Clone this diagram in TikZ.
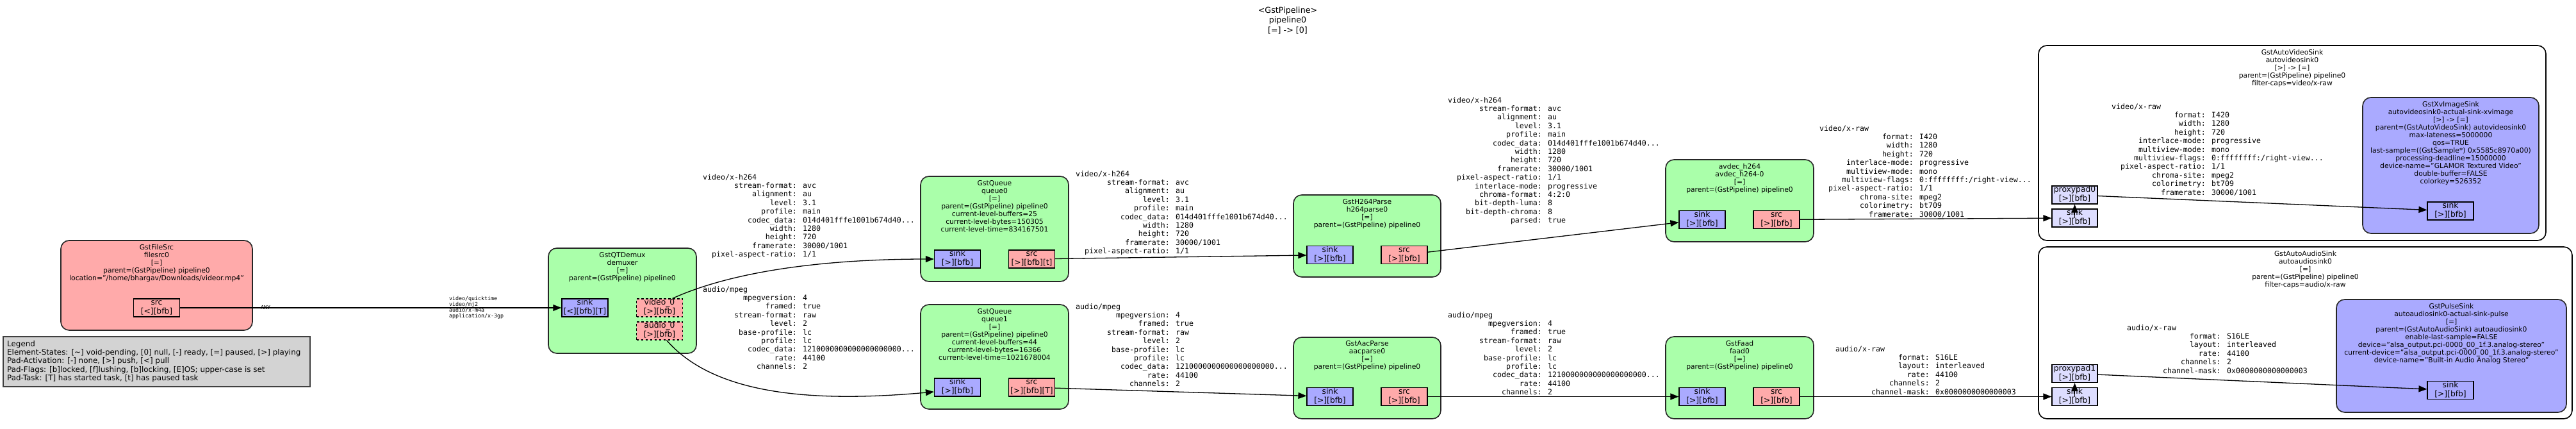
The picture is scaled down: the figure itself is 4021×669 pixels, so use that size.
\documentclass[tikz,border=0pt]{standalone}
\usepackage{fontspec}
\setmainfont{DejaVu Sans}
\newfontfamily\monof{DejaVu Sans Mono}
\usetikzlibrary{arrows.meta,calc}
\definecolor{srcc}{HTML}{FFAAAA}
\definecolor{sinkc}{HTML}{AAAAFF}
\definecolor{filtc}{HTML}{AAFFAA}
\definecolor{proxyc}{HTML}{DDDDFF}
\definecolor{legc}{HTML}{D3D3D3}
\newcommand\capfont{\monof\fontsize{11.6}{13.4}\selectfont}
\newcommand\smallcap{\monof\fontsize{8.3}{9.3}\selectfont}
\newcommand\efont{\fontsize{10.8}{12}\selectfont}
\newcommand\tfont{\fontsize{12.7}{15.3}\selectfont}
\newcommand\pfont{\fontsize{12.3}{14}\selectfont}
\newcommand\lfont{\fontsize{11.9}{13.4}\selectfont}
\newcommand\nl{\\\relax}
\newcommand\cl[2]{\makebox[20\fontcharwd\font`0][r]{#1}: #2}
\newcommand\ltab[1]{\begin{tabular}[t]{@{}l@{}}#1\end{tabular}}
\newcommand\ctab[1]{\begin{tabular}[t]{@{}c@{}}#1\end{tabular}}
\newcommand\ptab[2]{\begin{tabular}{@{}c@{}}#1\\\relax #2\end{tabular}}
\newcommand\hcaps{video/x-h264\nl
\cl{stream-format}{avc}\nl
\cl{alignment}{au}\nl
\cl{level}{3.1}\nl
\cl{profile}{main}\nl
\cl{codec\_data}{014d401fffe1001b674d40...}\nl
\cl{width}{1280}\nl
\cl{height}{720}\nl
\cl{framerate}{30000/1001}\nl
\cl{pixel-aspect-ratio}{1/1}}
\newcommand\acaps{audio/mpeg\nl
\cl{mpegversion}{4}\nl
\cl{framed}{true}\nl
\cl{stream-format}{raw}\nl
\cl{level}{2}\nl
\cl{base-profile}{lc}\nl
\cl{profile}{lc}\nl
\cl{codec\_data}{1210000000000000000000...}\nl
\cl{rate}{44100}\nl
\cl{channels}{2}}
\newcommand\rvcaps{video/x-raw\nl
\cl{format}{I420}\nl
\cl{width}{1280}\nl
\cl{height}{720}\nl
\cl{interlace-mode}{progressive}\nl
\cl{multiview-mode}{mono}\nl
\cl{multiview-flags}{0:ffffffff:/right-view...}\nl
\cl{pixel-aspect-ratio}{1/1}\nl
\cl{chroma-site}{mpeg2}\nl
\cl{colorimetry}{bt709}\nl
\cl{framerate}{30000/1001}}
\newcommand\racaps{audio/x-raw\nl
\cl{format}{S16LE}\nl
\cl{layout}{interleaved}\nl
\cl{rate}{44100}\nl
\cl{channels}{2}\nl
\cl{channel-mask}{0x0000000000000003}}
\tikzset{
  elem/.style={draw=black!85, line width=1.6pt, rounded corners=13pt, inner sep=0pt},
  etext/.style={font=\efont, inner sep=0pt, anchor=base},
  padbox/.style={draw=black, line width=1.2pt, minimum width=72pt, minimum height=26pt, inner sep=0pt, font=\pfont},
  srcpad/.style={padbox, fill=srcc},
  sinkpad/.style={padbox, fill=sinkc},
  proxpad/.style={padbox, fill=proxyc, minimum width=71pt},
  somepad/.style={srcpad, dash pattern=on 3.5pt off 3.5pt},
  capsbox/.style={font=\capfont, inner sep=0pt, anchor=base west},
  conn/.style={draw=black, line width=1.3pt, -{Triangle[length=13pt,width=10pt]}},
}
\begin{document}
\begin{tikzpicture}[x=1pt,y=-1pt]
\useasboundingbox (0,0) rectangle (4021,669);
% title
\node[font=\tfont, inner sep=0pt, anchor=base] (title) at (2010,20.5) {\ctab{<GstPipeline>\nl pipeline0\nl [=] -> [0]}};
% legend
\node[draw=black!75, line width=1.5pt, fill=legc, minimum width=479pt, minimum height=78pt, inner sep=0pt] (legend) at (244.5,564) {};
\node[font=\lfont, inner sep=0pt, anchor=base west] (legend-t) at (11,540) {\ltab{Legend\nl Element-States: [\textasciitilde] void-pending, [0] null, [-] ready, [=] paused, [>] playing\nl Pad-Activation: [-] none, [>] push, [<] pull\nl Pad-Flags: [b]locked, [f]lushing, [b]locking, [E]OS; upper-case is set\nl Pad-Task: [T] has started task, [t] has paused task}};
% filesrc
\node[elem, fill=srcc, minimum width=299pt, minimum height=140pt] (filesrc) at (244.5,445) {};
\node[etext] (filesrc-t) at (244.5,389) {\ctab{GstFileSrc\nl filesrc0\nl [=]\nl parent=(GstPipeline) pipeline0\nl location="/home/bhargav/Downloads/videor.mp4"}};
\node[srcpad] (fs-src) at (244.5,480) {\ptab{src}{[<][bfb]}};
% demuxer
\node[elem, fill=filtc, minimum width=231pt, minimum height=164pt] (demux) at (971.5,469) {};
\node[etext] (demux-t) at (971.5,401) {\ctab{GstQTDemux\nl demuxer\nl [=]\nl parent=(GstPipeline) pipeline0}};
\node[sinkpad] (dm-sink) at (913,480) {\ptab{sink}{[<][bfb][T]}};
\node[somepad] (dm-vid) at (1029.5,480) {\ptab{video\_0}{[>][bfb]}};
\node[somepad] (dm-aud) at (1029.5,516) {\ptab{audio\_0}{[>][bfb]}};
% queue0
\node[elem, fill=filtc, minimum width=231pt, minimum height=164pt] (queue0) at (1552.5,357) {};
\node[etext] (queue0-t) at (1552.5,289) {\ctab{GstQueue\nl queue0\nl [=]\nl parent=(GstPipeline) pipeline0\nl current-level-buffers=25\nl current-level-bytes=150305\nl current-level-time=834167501}};
\node[sinkpad] (q0-sink) at (1494.5,404) {\ptab{sink}{[>][bfb]}};
\node[srcpad] (q0-src) at (1610.5,404) {\ptab{src}{[>][bfb][t]}};
% queue1
\node[elem, fill=filtc, minimum width=231pt, minimum height=163pt] (queue1) at (1552.5,556.5) {};
\node[etext] (queue1-t) at (1552.5,489) {\ctab{GstQueue\nl queue1\nl [=]\nl parent=(GstPipeline) pipeline0\nl current-level-buffers=44\nl current-level-bytes=16366\nl current-level-time=1021678004}};
\node[sinkpad] (q1-sink) at (1494.5,604) {\ptab{sink}{[>][bfb]}};
\node[srcpad] (q1-src) at (1610.5,604) {\ptab{src}{[>][bfb][T]}};
% h264parse
\node[elem, fill=filtc, minimum width=230pt, minimum height=128pt] (h264parse) at (2134,368) {};
\node[etext] (h264parse-t) at (2134,318) {\ctab{GstH264Parse\nl h264parse0\nl [=]\nl parent=(GstPipeline) pipeline0}};
\node[sinkpad] (hp-sink) at (2076,397.5) {\ptab{sink}{[>][bfb]}};
\node[srcpad] (hp-src) at (2192,397.5) {\ptab{src}{[>][bfb]}};
% aacparse
\node[elem, fill=filtc, minimum width=230pt, minimum height=127pt] (aacparse) at (2134,589.5) {};
\node[etext] (aacparse-t) at (2134,539) {\ctab{GstAacParse\nl aacparse0\nl [=]\nl parent=(GstPipeline) pipeline0}};
\node[sinkpad] (ap-sink) at (2076,618.5) {\ptab{sink}{[>][bfb]}};
\node[srcpad] (ap-src) at (2192,618.5) {\ptab{src}{[>][bfb]}};
% avdec
\node[elem, fill=filtc, minimum width=231pt, minimum height=128pt] (avdec) at (2715.5,313) {};
\node[etext] (avdec-t) at (2715.5,263) {\ctab{avdec\_h264\nl avdec\_h264-0\nl [=]\nl parent=(GstPipeline) pipeline0}};
\node[sinkpad] (av-sink) at (2657,342.5) {\ptab{sink}{[>][bfb]}};
\node[srcpad] (av-src) at (2773,342.5) {\ptab{src}{[>][bfb]}};
% faad
\node[elem, fill=filtc, minimum width=231pt, minimum height=128pt] (faad) at (2715.5,589) {};
\node[etext] (faad-t) at (2715.5,539) {\ctab{GstFaad\nl faad0\nl [=]\nl parent=(GstPipeline) pipeline0}};
\node[sinkpad] (fa-sink) at (2657,618.5) {\ptab{sink}{[>][bfb]}};
\node[srcpad] (fa-src) at (2773,618.5) {\ptab{src}{[>][bfb]}};
% autovideosink bin
\node[elem, fill=white, draw=black, minimum width=792pt, minimum height=304pt] (vbin) at (3578,223) {};
\node[etext] (vbin-t) at (3578,85) {\ctab{GstAutoVideoSink\nl autovideosink0\nl [>] -> [=]\nl parent=(GstPipeline) pipeline0\nl filter-caps=video/x-raw}};
\node[elem, fill=sinkc, minimum width=275pt, minimum height=212pt] (xv) at (3825.5,258) {};
\node[etext] (xv-t) at (3825.5,166) {\ctab{GstXvImageSink\nl autovideosink0-actual-sink-xvimage\nl [>] -> [=]\nl parent=(GstAutoVideoSink) autovideosink0\nl max-lateness=5000000\nl qos=TRUE\nl last-sample=((GstSample*) 0x5585c8970a00)\nl processing-deadline=15000000\nl device-name="GLAMOR Textured Video"\nl double-buffer=FALSE\nl colorkey=526352}};
\node[sinkpad] (xv-sink) at (3825,329) {\ptab{sink}{[>][bfb]}};
\node[proxpad] (vb-sink) at (3238.5,340) {\ptab{sink}{[>][bfb]}};
\node[proxpad] (vb-proxy) at (3238.5,304) {\ptab{proxypad0}{[>][bfb]}};
% autoaudiosink bin
\node[elem, fill=white, draw=black, minimum width=833pt, minimum height=268pt] (abin) at (3598.5,519) {};
\node[etext] (abin-t) at (3598.5,399) {\ctab{GstAutoAudioSink\nl autoaudiosink0\nl [=]\nl parent=(GstPipeline) pipeline0\nl filter-caps=audio/x-raw}};
\node[elem, fill=sinkc, minimum width=359pt, minimum height=176pt] (pulse) at (3826.5,555) {};
\node[etext] (pulse-t) at (3826.5,481) {\ctab{GstPulseSink\nl autoaudiosink0-actual-sink-pulse\nl [=]\nl parent=(GstAutoAudioSink) autoaudiosink0\nl enable-last-sample=FALSE\nl device="alsa\_output.pci-0000\_00\_1f.3.analog-stereo"\nl current-device="alsa\_output.pci-0000\_00\_1f.3.analog-stereo"\nl device-name="Built-in Audio Analog Stereo"}};
\node[sinkpad] (pu-sink) at (3825,608.5) {\ptab{sink}{[>][bfb]}};
\node[proxpad] (ab-sink) at (3238.5,618.5) {\ptab{sink}{[>][bfb]}};
\node[proxpad] (ab-proxy) at (3238.5,582.5) {\ptab{proxypad1}{[>][bfb]}};
% caps labels
\node[font=\smallcap, inner sep=0pt, anchor=base west] (any) at (407,482) {ANY};
\node[font=\smallcap, inner sep=0pt, anchor=base west] (qtcaps) at (701,468) {\ltab{video/quicktime\nl video/mj2\nl audio/x-m4a\nl application/x-3gp}};
\node[capsbox] (c-dmv) at (1097,280) {\ltab{\hcaps}};
\node[capsbox] (c-dma) at (1097,455) {\ltab{\acaps}};
\node[capsbox] (c-q0) at (1679,275) {\ltab{\hcaps}};
\node[capsbox] (c-q1) at (1679,482) {\ltab{\acaps}};
\node[capsbox] (c-hp) at (2260,160) {\ltab{\hcaps\nl
\cl{interlace-mode}{progressive}\nl
\cl{chroma-format}{4:2:0}\nl
\cl{bit-depth-luma}{8}\nl
\cl{bit-depth-chroma}{8}\nl
\cl{parsed}{true}}};
\node[capsbox] (c-ap) at (2260,495) {\ltab{\acaps}};
\node[capsbox] (c-av) at (2840,204) {\ltab{\rvcaps}};
\node[capsbox] (c-vb) at (3296,170) {\ltab{\rvcaps}};
\node[capsbox] (c-fa) at (2865,548) {\ltab{\racaps}};
\node[capsbox] (c-ab) at (3320,515) {\ltab{\racaps}};
% connectors
\draw[conn] (fs-src) -- (dm-sink);
\draw[conn] ($(dm-vid.north)!0.55!(dm-vid.north east)$) .. controls (1150,420) and (1300,404) .. (q0-sink.west);
\draw[conn] ($(dm-aud.south)!0.3!(dm-aud.south east)$) .. controls (1110,610) and (1250,630) .. ($(q1-sink.west)+(0,7)$);
\draw[conn] (q0-src) -- (hp-sink);
\draw[conn] (q1-src) -- (ap-sink);
\draw[conn] (hp-src) -- (av-sink);
\draw[conn] (ap-src) -- (fa-sink);
\draw[conn] (av-src) -- (vb-sink);
\draw[conn] (fa-src) -- (ab-sink);
\draw[conn] (vb-sink.center) -- (vb-proxy.south);
\draw[conn] (ab-sink.center) -- (ab-proxy.south);
\draw[conn] (vb-proxy) -- (xv-sink);
\draw[conn] (ab-proxy) -- (pu-sink);
\end{tikzpicture}
\end{document}
